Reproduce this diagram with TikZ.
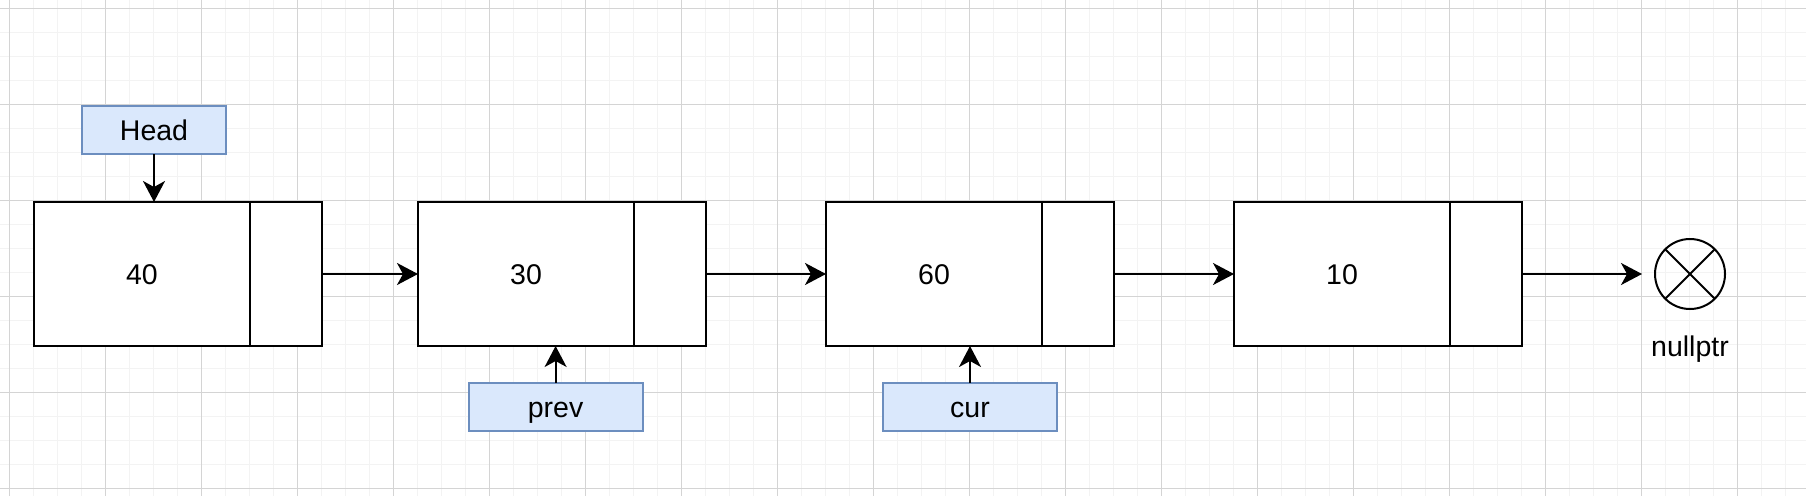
\documentclass[tikz,border=0pt]{standalone}
\usepackage{fontspec}
\setmainfont{Liberation Sans}
\usetikzlibrary{arrows.meta}
\definecolor{gridminor}{HTML}{F3F3F3}
\definecolor{gridmajor}{HTML}{D4D4D4}
\definecolor{ptrfill}{HTML}{DAE8FC}
\definecolor{ptrdraw}{HTML}{6C8EBF}
\tikzset{
  minorline/.style={draw=gridminor, line width=1.6pt},
  majorline/.style={draw=gridmajor, line width=1pt},
  datapart/.style={draw=black, fill=white, line width=2pt, minimum width=216pt, minimum height=144pt, inner sep=0pt, outer sep=0pt},
  ptrpart/.style={draw=black, fill=white, line width=2pt, minimum width=72pt, minimum height=144pt, inner sep=0pt, outer sep=0pt},
  ptrbox/.style={draw=ptrdraw, fill=ptrfill, line width=2pt, minimum height=48pt, inner sep=0pt, outer sep=0pt},
  arr/.style={draw=black, line width=2pt, -{Stealth[length=21pt, width=22pt, inset=6pt]}},
  txt/.style={font=\fontsize{28.5}{34}\selectfont, text height=20pt, text depth=0pt}
}
\begin{document}
\begin{tikzpicture}[x=1pt, y=-1pt]
\useasboundingbox (0,0) rectangle (1806,496);
\fill[white] (0,0) rectangle (1806,496);
% grid
\foreach \i in {0,...,74} \draw[minorline] ({9.3+24*\i},0) -- ({9.3+24*\i},496);
\foreach \j in {0,...,20} \draw[minorline] (0,{8.3+24*\j}) -- (1806,{8.3+24*\j});
\foreach \i in {0,...,18} \draw[majorline] ({9.3+96*\i},0) -- ({9.3+96*\i},496);
\foreach \j in {0,...,5} \draw[majorline] (0,{8.3+96*\j}) -- (1806,{8.3+96*\j});
% list nodes
\node[datapart, txt] (n1) at (142,274) {40};
\node[ptrpart] (n1p) at (286,274) {};
\node[datapart, txt] (n2) at (526,274) {30};
\node[ptrpart] (n2p) at (670,274) {};
\node[datapart, txt] (n3) at (934,274) {60};
\node[ptrpart] (n3p) at (1078,274) {};
\node[datapart, txt] (n4) at (1342,274) {10};
\node[ptrpart] (n4p) at (1486,274) {};
% null
\node[circle, draw=black, line width=2pt, minimum size=70pt, inner sep=0pt, outer sep=0pt] (null) at (1690,274) {};
\draw[line width=2pt] (null.north east) -- (null.south west);
\draw[line width=2pt] (null.north west) -- (null.south east);
\node[txt, anchor=base] (nulltxt) at (1690,356) {nullptr};
% pointer labels
\node[ptrbox, txt, minimum width=144pt] (head) at (154,130) {Head};
\node[ptrbox, txt, minimum width=174pt] (prev) at (555.6,407) {prev};
\node[ptrbox, txt, minimum width=174pt] (cur) at (970,407) {cur};
% connectors
\draw[arr] (n1p.east) -- (n2.west);
\draw[arr] (n2p.east) -- (n3.west);
\draw[arr] (n3p.east) -- (n4.west);
\draw[arr, shorten >=13pt] (n4p.east) -- (null.west);
\draw[arr] (head.south) -- (head.south |- n1.north);
\draw[arr] (prev.north) -- (prev.north |- n2.south);
\draw[arr] (cur.north) -- (cur.north |- n3.south);
\end{tikzpicture}
\end{document}
